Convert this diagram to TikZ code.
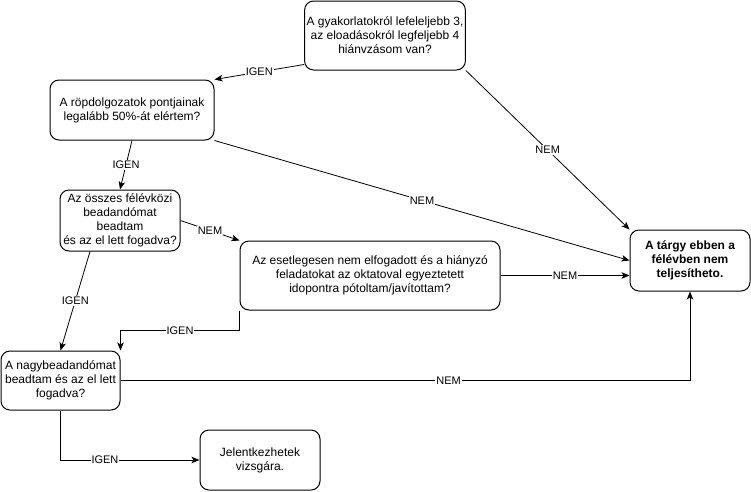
\documentclass[tikz,border=0pt]{standalone}
\usepackage{fontspec}
\setmainfont{Liberation Sans}
\usetikzlibrary{arrows.meta}
\begin{document}
\begin{tikzpicture}[x=1pt,y=-1pt,
  box/.style={draw=black,line width=1pt,rounded corners=9pt,align=center,
    inner sep=2pt,font=\fontsize{12}{14}\selectfont},
  conn/.style={draw=black,line width=0.8pt,-{Stealth[length=8pt,width=6.5pt,inset=2pt]}},
  lbl/.style={fill=white,inner sep=1pt,font=\fontsize{11}{13}\selectfont},
]
\useasboundingbox (0,0) rectangle (751,491);
\node[box,minimum width=160pt,minimum height=69pt] (A) at (385,35.5)
  {A gyakorlatokról lefeleljebb 3,\\az eloadásokról legfeljebb 4\\hiánvzásom van?};
\node[box,minimum width=164pt,minimum height=60pt] (B) at (132,110)
  {A röpdolgozatok pontjainak\\legalább 50\%-át elértem?};
\node[box,minimum width=120pt,minimum height=61pt] (C) at (120,220.5)
  {Az összes félévközi\\beadandómat\\beadtam\\és az el lett fogadva?};
\node[box,minimum width=260pt,minimum height=69pt] (D) at (370,275.5)
  {Az esetlegesen nem elfogadott és a hiányzó\\feladatokat az oktatoval egyeztetett\\idopontra pótoltam/javítottam?};
\node[box,minimum width=120pt,minimum height=61pt,font=\fontsize{12}{14}\selectfont\bfseries] (E) at (690,260.5)
  {A tárgy ebben a\\félévben nem\\teljesítheto.};
\node[box,minimum width=119pt,minimum height=59pt] (F) at (60.5,380.5)
  {A nagybeadandómat\\beadtam és az el lett\\fogadva?};
\node[box,minimum width=120pt,minimum height=60pt] (G) at (260,460)
  {Jelentkezhetek\\vizsgára.};
\coordinate (d1) at ([yshift=-20pt]D.south west);
\draw[conn] ([yshift=6pt]A.south west) -- node[lbl]{IGEN} (B.north east);
\draw[conn] (A.south east) -- node[lbl]{NEM} (E.north west);
\draw[conn] (B.south) -- node[lbl]{IGEN} (C.north);
\draw[conn] (B.south east) -- node[lbl]{NEM} (E.west);
\draw[conn] (C.east) -- node[lbl]{NEM} (D.north west);
\draw[conn] ([xshift=-30pt]C.south) -- node[lbl]{IGEN} (F.north);
\draw[conn] (D.south west) -- (d1) -| node[lbl,pos=0.25]{IGEN} (F.north east);
\draw[conn] (D.east) -- node[lbl]{NEM} (D.east -| E.west);
\draw[conn] (F.east) -| node[lbl,pos=0.288]{NEM} (E.south);
\draw[conn] (F.south) |- node[lbl,pos=0.66]{IGEN} (G.west);
\end{tikzpicture}
\end{document}
